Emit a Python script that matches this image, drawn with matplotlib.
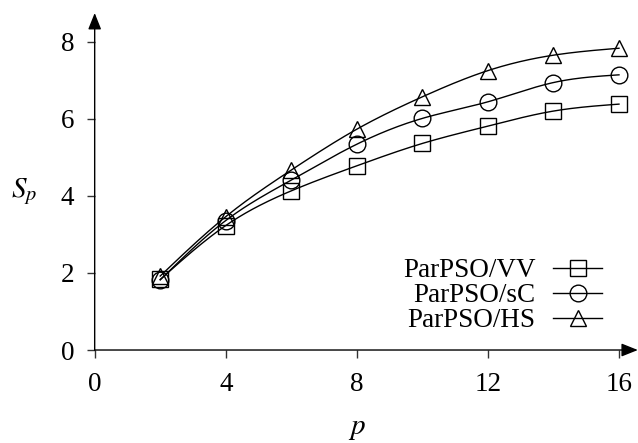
import numpy as np
import matplotlib
matplotlib.use("Agg")
import matplotlib.pyplot as plt
from matplotlib.lines import Line2D

plt.rcParams['font.family'] = ['Liberation Serif', 'DejaVu Serif']
plt.rcParams['mathtext.fontset'] = 'stix'

p = [2, 4, 6, 8, 10, 12, 14, 16]
vv = [1.83, 3.23, 4.13, 4.78, 5.36, 5.81, 6.20, 6.38]
sc = [1.82, 3.36, 4.41, 5.34, 6.01, 6.44, 6.94, 7.14]
hs = [1.92, 3.46, 4.67, 5.73, 6.57, 7.25, 7.65, 7.83]

labels = ['ParPSO/VV', 'ParPSO/sC', 'ParPSO/HS']
markers = ['s', 'o', '^']


def natural_spline(x, y, n=200):
    # natural cubic spline through the points
    x = np.asarray(x, float)
    y = np.asarray(y, float)
    k = len(x)
    h = np.diff(x)
    A = np.zeros((k, k))
    r = np.zeros(k)
    A[0, 0] = 1
    A[-1, -1] = 1
    for i in range(1, k - 1):
        A[i, i - 1] = h[i - 1]
        A[i, i] = 2 * (h[i - 1] + h[i])
        A[i, i + 1] = h[i]
        r[i] = 6 * ((y[i + 1] - y[i]) / h[i] - (y[i] - y[i - 1]) / h[i - 1])
    M = np.linalg.solve(A, r)
    xs = np.linspace(x[0], x[-1], n)
    ys = np.empty_like(xs)
    for j, t in enumerate(xs):
        i = min(np.searchsorted(x, t, side='right') - 1, k - 2)
        a = x[i + 1] - t
        b = t - x[i]
        ys[j] = (M[i] * a**3 + M[i + 1] * b**3) / (6 * h[i]) \
            + (y[i] / h[i] - M[i] * h[i] / 6) * a \
            + (y[i + 1] / h[i] - M[i + 1] * h[i] / 6) * b
    return xs, ys


fig = plt.figure(figsize=(6.38, 4.43), dpi=100)
ax = fig.add_axes([0.1484, 0.2099, 0.8218, 0.6960])

handles = []
for vals, lab, m in zip([vv, sc, hs], labels, markers):
    xs, ys = natural_spline(p, vals)
    ax.plot(xs, ys, color='black', lw=1.0, clip_on=False)
    ax.plot(p, vals, linestyle='none', marker=m, ms=12, mfc='none',
            mec='black', mew=1.0, clip_on=False)
    handles.append(Line2D([], [], color='black', lw=1.0, marker=m, ms=12,
                          mfc='none', mec='black', mew=1.0))

ax.set_xlim(0, 16)
ax.set_ylim(0, 8)
ax.set_xticks([0, 4, 8, 12, 16])
ax.set_yticks([0, 2, 4, 6, 8])
ax.tick_params(direction='out', length=5.8, width=1.0, labelsize=19.5,
               color='#333333')
ax.tick_params(axis='x', pad=10)
ax.tick_params(axis='y', pad=9)
for s in ax.spines.values():
    s.set_visible(False)

arrow = dict(arrowstyle='-|>,head_length=0.5,head_width=0.2', color='black',
             lw=1.0, shrinkA=0, shrinkB=0, mutation_scale=20)
ax.annotate('', xy=(1.036, 0), xytext=(0, 0), xycoords='axes fraction',
            textcoords='axes fraction', arrowprops=arrow, annotation_clip=False)
ax.annotate('', xy=(0, 1.093), xytext=(0, 0), xycoords='axes fraction',
            textcoords='axes fraction', arrowprops=arrow, annotation_clip=False)

ax.set_xlabel(r'$p$', fontsize=21, labelpad=14)
fig.text(24 / 638, 1 - 192 / 443, r'$S_p$', fontsize=21, ha='center', va='center')

ax.legend(handles, labels, loc='lower right', bbox_to_anchor=(602 / 638, (443 - 333) / 443),
          bbox_transform=fig.transFigure, frameon=False, markerfirst=False,
          fontsize=19.5, handlelength=1.8, handletextpad=0.65, labelspacing=0.0,
          borderaxespad=0, borderpad=0)

fig.savefig('out.png', dpi=100)
